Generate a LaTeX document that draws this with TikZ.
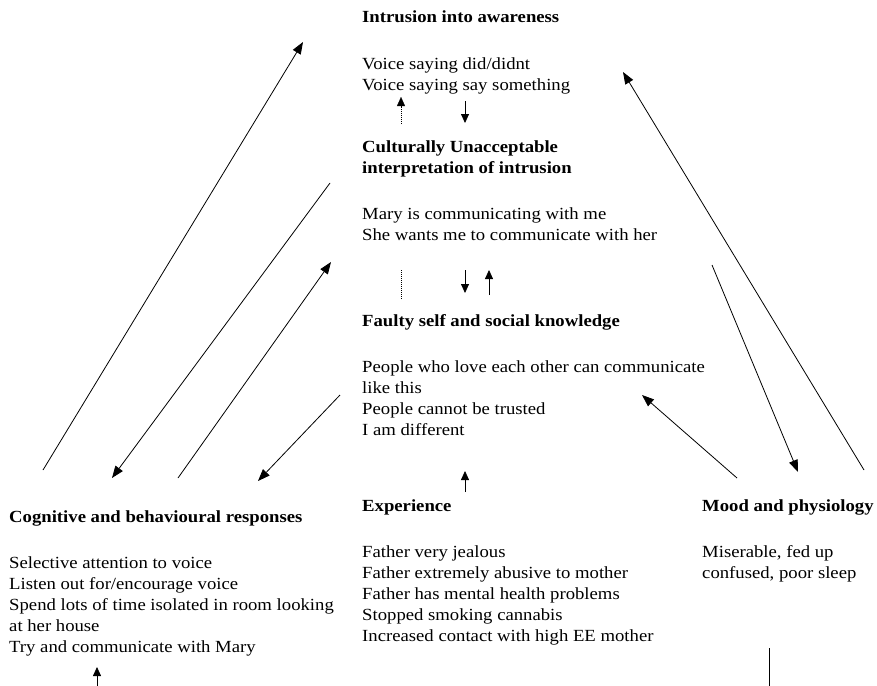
\documentclass[tikz,border=0pt]{standalone}
\usepackage{fontspec}
\setmainfont{Liberation Serif}[FakeStretch=1.1]
\usetikzlibrary{arrows.meta}
\begin{document}
\begin{tikzpicture}[x=1pt,y=-1pt,
  txt/.style={anchor=base west, inner sep=0pt, font=\fontsize{17}{21}\selectfont},
  ttl/.style={anchor=base west, inner sep=0pt, font=\fontsize{17}{21}\selectfont\bfseries},
  conn/.style={line width=0.8pt, -{Triangle[length=12pt,width=9pt]}},
  smallarr/.style={line width=0.8pt, -{Triangle[length=9pt,width=8pt]}},
  dottedline/.style={line width=1pt, dash pattern=on 1pt off 1pt}]
\useasboundingbox (0,0) rectangle (877,685);
% centre column
\node[ttl] (intr) at (362,23) {Intrusion into awareness};
\node[txt] (v1) at (362,69) {Voice saying did/didnt};
\node[txt] (v2) at (362,90) {Voice saying say something};
\node[ttl] (cu1) at (362,152) {Culturally Unacceptable};
\node[ttl] (cu2) at (362,173) {interpretation of intrusion};
\node[txt] (m1) at (362,219) {Mary is communicating with me};
\node[txt] (m2) at (362,240) {She wants me to communicate with her};
\node[ttl] (fs) at (362,326) {Faulty self and social knowledge};
\node[txt] (p1) at (362,372) {People who love each other can communicate};
\node[txt] (p2) at (362,393) {like this};
\node[txt] (p3) at (362,414) {People cannot be trusted};
\node[txt] (p4) at (362,435) {I am different};
\node[ttl] (ex) at (362,511) {Experience};
\node[txt] (e1) at (362,557) {Father very jealous};
\node[txt] (e2) at (362,578) {Father extremely abusive to mother};
\node[txt] (e3) at (362,599) {Father has mental health problems};
\node[txt] (e4) at (362,620) {Stopped smoking cannabis};
\node[txt] (e5) at (362,641) {Increased contact with high EE mother};
% left column
\node[ttl] (cb) at (9,522) {Cognitive and behavioural responses};
\node[txt] (c1) at (9,568) {Selective attention to voice};
\node[txt] (c2) at (9,589) {Listen out for/encourage voice};
\node[txt] (c3) at (9,610) {Spend lots of time isolated in room looking};
\node[txt] (c4) at (9,631) {at her house};
\node[txt] (c5) at (9,652) {Try and communicate with Mary};
% right column
\node[ttl] (mo) at (702,511) {Mood and physiology};
\node[txt] (mo1) at (702,557) {Miserable, fed up};
\node[txt] (mo2) at (702,578) {confused, poor sleep};
% small arrows
\coordinate (da1) at (401,124); \coordinate (da2) at (401,97);
\coordinate (dam) at (401,106);
\draw[dottedline] (da1) -- (dam);
\draw[-{Triangle[length=9pt,width=8pt]}, line width=0.1pt] (dam) -- (da2);
\coordinate (sd1) at (465,101); \coordinate (sd2) at (465,123);
\draw[smallarr] (sd1) -- (sd2);
\coordinate (dl1) at (401.5,270); \coordinate (dl2) at (401.5,300);
\draw[dottedline] (dl1) -- (dl2);
\coordinate (sd3) at (465,270); \coordinate (sd4) at (465,293);
\draw[smallarr] (sd3) -- (sd4);
\coordinate (su1) at (489,295); \coordinate (su2) at (489,270);
\draw[smallarr] (su1) -- (su2);
\coordinate (su3) at (465,492); \coordinate (su4) at (465,471);
\draw[smallarr] (su3) -- (su4);
% bottom
\coordinate (b1) at (97,690); \coordinate (b2) at (97,667);
\draw[smallarr] (b1) -- (b2);
\coordinate (b3) at (769,648); \coordinate (b4) at (769,690);
\draw[line width=0.8pt] (b3) -- (b4);
% long connectors
\coordinate (L1a) at (43,470); \coordinate (L1b) at (303,42);
\coordinate (L2a) at (330,183); \coordinate (L2b) at (112,478);
\coordinate (L3a) at (178,478); \coordinate (L3b) at (331,262);
\coordinate (L4a) at (340,395); \coordinate (L4b) at (258,481);
\coordinate (L5a) at (737,478); \coordinate (L5b) at (642,395);
\coordinate (L6a) at (712,265); \coordinate (L6b) at (798,472);
\coordinate (L7a) at (864,470); \coordinate (L7b) at (623,72);
\draw[conn] (L1a) -- (L1b);
\draw[conn] (L2a) -- (L2b);
\draw[conn] (L3a) -- (L3b);
\draw[conn] (L4a) -- (L4b);
\draw[conn] (L5a) -- (L5b);
\draw[conn] (L6a) -- (L6b);
\draw[conn] (L7a) -- (L7b);
\end{tikzpicture}
\end{document}
